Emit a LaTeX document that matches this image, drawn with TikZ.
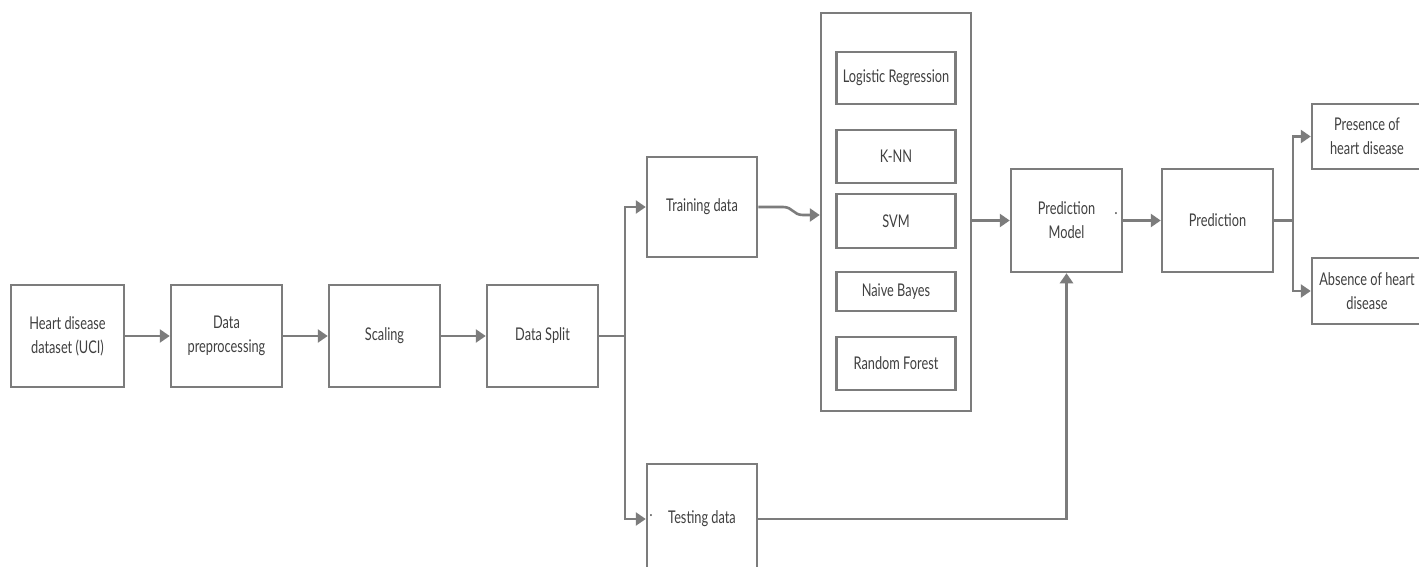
\documentclass[tikz,border=0pt]{standalone}
\usepackage{fontspec}
\usetikzlibrary{arrows.meta,calc}
\newfontfamily\diafont[FakeStretch=0.73]{Lato}
\definecolor{linegray}{HTML}{7C7C7C}
\definecolor{txtgray}{HTML}{404040}
\tikzset{
  box/.style={draw=linegray, line width=2.5pt, align=center, text=txtgray,
    font=\diafont\fontsize{17.5}{24}\selectfont, inner sep=0pt},
  conn/.style={draw=linegray, line width=2.6pt},
  arr/.style={conn, -{Triangle[length=10pt,width=13pt]}},
}
\begin{document}
\begin{tikzpicture}[x=1pt,y=-1pt]
\clip (0,0) rectangle (1419,567);
\fill[white] (0,0) rectangle (1419,567);
% first row
\node[box, minimum width=113pt, minimum height=102pt] (heart) at (67.5,336) {Heart disease\\dataset (UCI)};
\node[box, minimum width=111pt, minimum height=102pt] (prep) at (226.5,336) {Data\\preprocessing};
\node[box, minimum width=111pt, minimum height=102pt] (scal) at (384.5,336) {Scaling};
\node[box, minimum width=111pt, minimum height=102pt] (split) at (542.5,336) {Data Split};
% train / test
\node[box, minimum width=110pt, minimum height=100pt] (train) at (702,207) {Training data};
\node[box, minimum width=110pt, minimum height=110pt] (test) at (702,519) {Testing data};
% model box
\node[box, minimum width=150pt, minimum height=398pt] (big) at (896,212) {};
\node[box, minimum width=119pt, minimum height=52pt] (lr) at (896,78) {Logistic Regression};
\node[box, minimum width=119pt, minimum height=53pt] (knn) at (896,156.5) {K-NN};
\node[box, minimum width=119pt, minimum height=54pt] (svm) at (896,221) {SVM};
\node[box, minimum width=119pt, minimum height=39pt] (nb) at (896,291.5) {Naive Bayes};
\node[box, minimum width=119pt, minimum height=53pt] (rf) at (896,363.5) {Random Forest};
% prediction
\node[box, minimum width=111pt, minimum height=103pt] (pm) at (1066.5,220.5) {Prediction\\Model};
\node[box, minimum width=111pt, minimum height=103pt] (pred) at (1217.5,220.5) {Prediction};
\node[box, minimum width=110pt, minimum height=65pt] (pres) at (1367,136.5) {Presence of\\heart disease};
\node[box, minimum width=110pt, minimum height=66pt] (abs) at (1367,291) {Absence of heart\\disease};
% stray dots
\node[text=txtgray, font=\diafont\fontsize{17}{24}\selectfont, inner sep=0pt] (dot1) at (1116,214) {.};
\node[text=txtgray, font=\diafont\fontsize{17}{24}\selectfont, inner sep=0pt] (dot2) at (651,516) {.};
% connectors
\draw[arr] (heart.east) -- (prep.west);
\draw[arr] (prep.east) -- (scal.west);
\draw[arr] (scal.east) -- (split.west);
\coordinate (sj) at (625,336);
\draw[conn] (split.east) -- (sj);
\draw[arr] (sj) |- (train.west);
\draw[arr] (sj) |- (test.west);
\coordinate (tc1) at (783,207);
\coordinate (tc2) at (803,215);
\draw[arr] (train.east) -- (tc1) .. controls (793,207) and (793,215) .. (tc2) -- (big.west |- tc2);
\draw[arr] (big.east |- pm.west) -- (pm.west);
\draw[arr] (pm.east) -- (pred.west);
\coordinate (pj) at (1293,220.5);
\draw[conn] (pred.east) -- (pj);
\draw[arr] (pj) |- (pres.west);
\draw[arr] (pj) |- (abs.west);
\draw[arr] (test.east) -| (pm.south);
\end{tikzpicture}
\end{document}
